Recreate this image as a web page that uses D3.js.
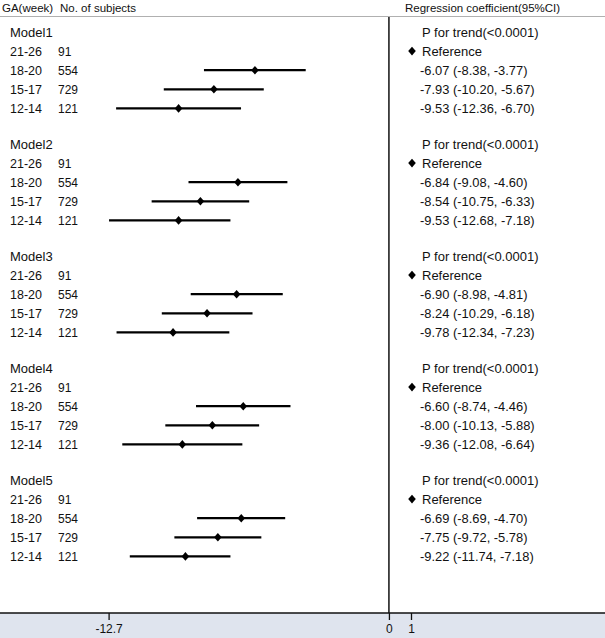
<!DOCTYPE html>
<html><head><meta charset="utf-8">
<script src="https://cdn.jsdelivr.net/npm/d3@7"></script>
<style>html,body{margin:0;padding:0;background:#fff;}svg{display:block;font-family:"Liberation Sans",Arial,sans-serif;}</style>
</head><body><svg id="c" width="605" height="638"></svg>
<script>
const models = ["Model1","Model2","Model3","Model4","Model5"];
const gaGroups = ["21-26","18-20","15-17","12-14"];
const subjects = [91, 554, 729, 121];
const pTrend = "P for trend(<0.0001)";
// estimates per model for groups 18-20, 15-17, 12-14 (21-26 is reference)
const est = [[-6.07,-7.93,-9.53],[-6.84,-8.54,-9.53],[-6.90,-8.24,-9.78],[-6.60,-8.00,-9.36],[-6.69,-7.75,-9.22]];
const lower = [[-8.38,-10.20,-12.36],[-9.08,-10.75,-12.68],[-8.98,-10.29,-12.34],[-8.74,-10.13,-12.08],[-8.69,-9.72,-11.74]];
const upper = [[-3.77,-5.67,-6.70],[-4.60,-6.33,-7.18],[-4.81,-6.18,-7.23],[-4.46,-5.88,-6.64],[-4.70,-5.78,-7.18]];
const tickVals = [-12.7, 0, 1];

const svg = d3.select("#c");
const W = 605, H = 638;
const x = d3.scaleLinear().domain([-12.7, 1]).range([108.6, 411]);
const axisY = 613;
const blockStart = 32, blockStep = 112, rowStep = 19.1;

// bottom band
svg.append("rect").attr("x",0).attr("y",axisY).attr("width",W).attr("height",H-axisY).attr("fill","#dfe4ee");
// header
svg.append("text").attr("x",2).attr("y",12).attr("font-size",11.5).attr("fill","#111").text("GA(week)");
svg.append("text").attr("x",60).attr("y",12).attr("font-size",11.5).attr("fill","#111").text("No. of subjects");
svg.append("text").attr("x",405).attr("y",12).attr("font-size",11.5).attr("fill","#111").text("Regression coefficient(95%CI)");
svg.append("line").attr("x1",0).attr("x2",W).attr("y1",16.5).attr("y2",16.5).attr("stroke","#b0b0b0").attr("stroke-width",1.2);
// vertical zero line
svg.append("line").attr("x1",x(0)).attr("x2",x(0)).attr("y1",17).attr("y2",axisY).attr("stroke","#111").attr("stroke-width",1.5);

const fmt = v => v.toFixed(2);
const diamond = "M0,-4.3L3.8,0L0,4.3L-3.8,0Z";

models.forEach((m, mi) => {
  const y0 = blockStart + mi*blockStep;
  const g = svg.append("g");
  g.append("text").attr("x",10).attr("y",y0+4.5).attr("font-size",13).attr("fill","#111").text(m);
  g.append("text").attr("x",422).attr("y",y0+4.5).attr("font-size",13).attr("fill","#111").text(pTrend);
  gaGroups.forEach((ga, gi) => {
    const y = y0 + (gi+1)*rowStep;
    g.append("text").attr("x",10).attr("y",y+4.5).attr("font-size",12.5).attr("fill","#111").text(ga);
    g.append("text").attr("x",58).attr("y",y+4.5).attr("font-size",12).attr("fill","#111").text(subjects[gi]);
    if (gi === 0) {
      g.append("path").attr("d",diamond).attr("transform",`translate(412,${y})`).attr("fill","#000");
      g.append("text").attr("x",422).attr("y",y+4.5).attr("font-size",13).attr("fill","#111").text("Reference");
    } else {
      const k = gi-1;
      g.append("line").attr("x1",x(lower[mi][k])).attr("x2",x(upper[mi][k])).attr("y1",y).attr("y2",y).attr("stroke","#000").attr("stroke-width",2.2);
      g.append("path").attr("d",diamond).attr("transform",`translate(${x(est[mi][k])},${y})`).attr("fill","#000");
      g.append("text").attr("x",420).attr("y",y+4.5).attr("font-size",12.9).attr("fill","#111")
        .text(`${fmt(est[mi][k])} (${fmt(lower[mi][k])}, ${fmt(upper[mi][k])})`);
    }
  });
});

// axis
const axis = d3.axisBottom(x).tickValues(tickVals).tickFormat(d => String(d)).tickSize(7).tickPadding(4);
const ag = svg.append("g").attr("transform",`translate(0,${axisY})`).call(axis);
ag.select(".domain").remove();
ag.append("line").attr("x1",0).attr("x2",W).attr("y1",0).attr("y2",0).attr("stroke","#111").attr("stroke-width",1.5);
ag.selectAll(".tick line").attr("stroke","#111").attr("stroke-width",1.3);
ag.selectAll(".tick text").attr("font-size",12).attr("fill","#111").attr("font-family","Liberation Sans, Arial, sans-serif");
</script></body></html>
